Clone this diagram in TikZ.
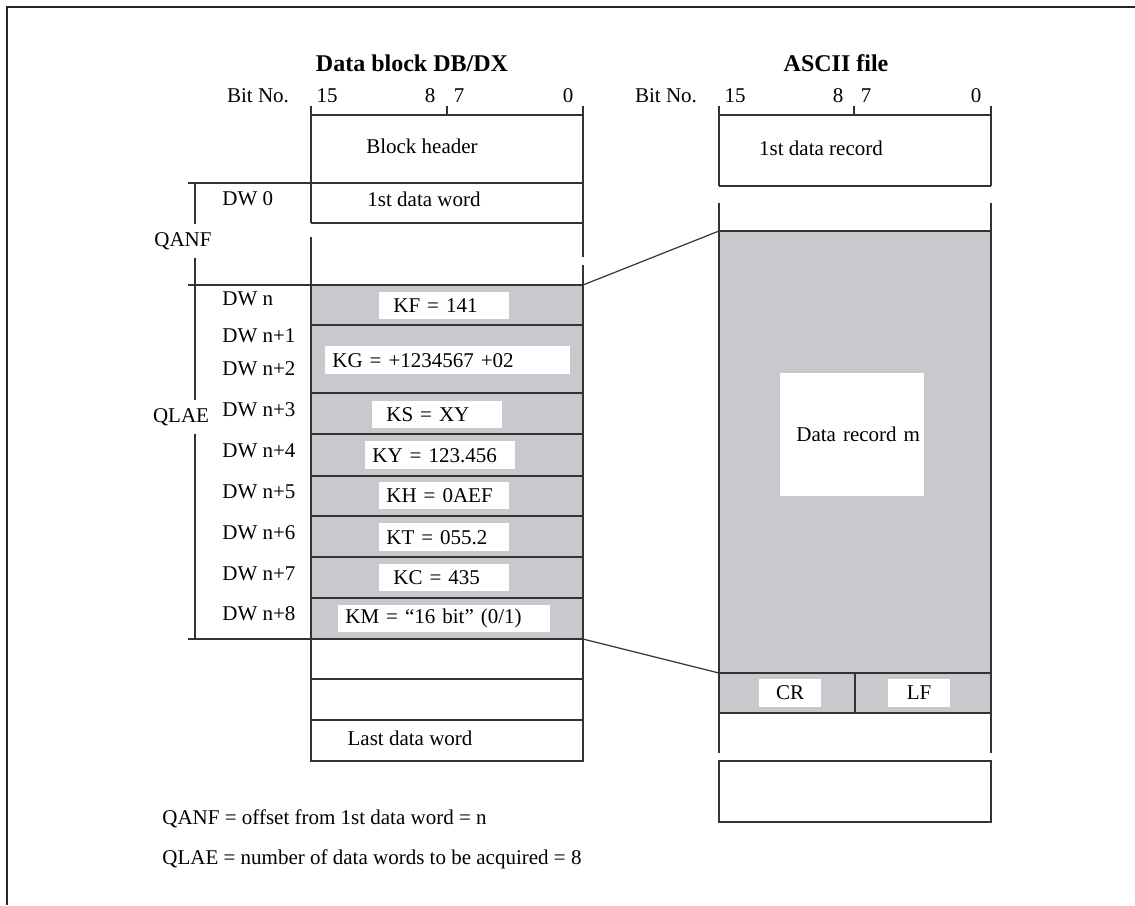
\documentclass[tikz,border=0pt]{standalone}
\usepackage{fontspec}
\setmainfont{Liberation Serif}
\begin{document}
\begin{tikzpicture}[
    x=0.5pt, y=-0.5pt,
    font=\fontsize{10.5}{12}\selectfont,
    ln/.style={line width=0.6pt, draw=black!80},
    frm/.style={line width=1pt, draw=black!85},
    shd/.style={fill={rgb,255:red,200;green,201;blue,204}},
    ttl/.style={font=\fontsize{12}{14}\selectfont\bfseries},
    lbl/.style={anchor=west, inner sep=0pt},
    val/.style={fill=white, inner xsep=3.5pt, inner ysep=0pt, minimum height=13.5pt,
                align=left, anchor=north west},
    tag/.style={fill=white, inner sep=0pt, minimum width=31pt, minimum height=14pt},
    brk/.style={fill=white, inner xsep=1pt, inner ysep=4pt}
]
  \useasboundingbox (0,0) rectangle (1135,905);
  \draw[frm] (1135,6.5) -- (6.5,6.5) -- (6.5,905);

  % ================= Data block DB/DX =================
  \fill[shd] (311,285) rectangle (583,639);
  \node[ttl] (dbtitle) at (412,63) {Data block DB/DX};
  \node[anchor=east] (dbbit) at (296,96) {Bit No.};
  \node (db15) at (327,96) {15};
  \node (db8)  at (430,96) {8};
  \node (db7)  at (459,96) {7};
  \node (db0)  at (568,96) {0};

  \draw[ln] (311,106) -- (311,223) (311,237) -- (311,761) -- (583,761)
            -- (583,265) (583,257) -- (583,106);
  \draw[ln] (447,106) -- (447,115);
  \draw[ln] (311,115) -- (583,115);
  \draw[ln] (188,183) -- (583,183);
  \draw[ln] (311,223) -- (583,223);
  \draw[ln] (188,285) -- (583,285);
  \foreach \y in {325,393,434,476,516,557,598}
    \draw[ln] (311,\y) -- (583,\y);
  \draw[ln] (188,639) -- (583,639);
  \foreach \y in {679,720}
    \draw[ln] (311,\y) -- (583,\y);

  \node (hdr)  at (422,146) {Block header};
  \node (dwd0) at (424,199) {1st data word};
  \node (last) at (410,738) {Last data word};

  % QANF / QLAE brackets
  \draw[ln] (195,183) -- (195,639);
  \node[brk] (qanf) at (183,241) {QANF};
  \node[brk] (qlae) at (181,417) {QLAE};

  \node[lbl] (dw0) at (222,199) {DW 0};
  \foreach \t/\y [count=\k] in {n/299, n+1/336, n+2/369, n+3/410, n+4/451,
                                n+5/492, n+6/533, n+7/574, n+8/614}
    \node[lbl] (dw\k) at (222,\y) {DW \t};

  % value boxes
  \node[val, text width=58pt]    (kf) at (379,292) {\hspace*{3.5pt}KF = 141};
  \node[val, text width=115.5pt, minimum height=14pt] (kg) at (325,346) {KG = +1234567 +02};
  \node[val, text width=58pt]    (ks) at (372,401) {\hspace*{3.5pt}KS = XY};
  \node[val, text width=68pt, minimum height=14pt] (ky) at (365,441) {KY = 123.456};
  \node[val, text width=58pt]    (kh) at (379,482) {KH = 0AEF};
  \node[val, text width=58pt, minimum height=14pt] (kt) at (379,523) {KT = 055.2};
  \node[val, text width=58pt]    (kc) at (379,564) {\hspace*{3.5pt}KC = 435};
  \node[val, text width=99pt]    (km) at (338,605) {KM = “16 bit” (0/1)};

  % ================= ASCII file =================
  \fill[shd] (719,231) rectangle (991,713);
  \node[ttl] (asctitle) at (836,63) {ASCII file};
  \node[anchor=east] (ascbit) at (704,96) {Bit No.};
  \node (asc15) at (735,96) {15};
  \node (asc8)  at (838,96) {8};
  \node (asc7)  at (866,96) {7};
  \node (asc0)  at (976,96) {0};

  \draw[ln] (719,106) -- (719,186) (719,203) -- (719,753);
  \draw[ln] (991,106) -- (991,186) (991,203) -- (991,753);
  \draw[ln] (854,106) -- (854,115);
  \foreach \y in {115,186,231,673,713}
    \draw[ln] (719,\y) -- (991,\y);
  \draw[ln] (855,673) -- (855,713);
  \draw[ln] (719,761) rectangle (991,822);

  \node (rec1) at (821,148) {1st data record};
  \node[fill=white, inner xsep=2pt, inner ysep=0pt, text width=68pt, align=right,
        minimum height=61.5pt] (recm) at (852,434.5) {Data record m};
  \node[tag] (cr) at (790,693) {CR};
  \node[tag] (lf) at (919,693) {LF};

  % ================= connectors =================
  \coordinate (dbtop)  at (583,285);
  \coordinate (dbbot)  at (583,639);
  \coordinate (asctop) at (719,231);
  \coordinate (ascbot) at (719,673);
  \draw[ln] (dbtop) -- (asctop);
  \draw[ln] (dbbot) -- (ascbot);

  % ================= notes =================
  \node[lbl] (note1) at (162,819) {QANF = offset from 1st data word = n};
  \node[lbl] (note2) at (162,859) {QLAE = number of data words to be acquired = 8};

\end{tikzpicture}
\end{document}
